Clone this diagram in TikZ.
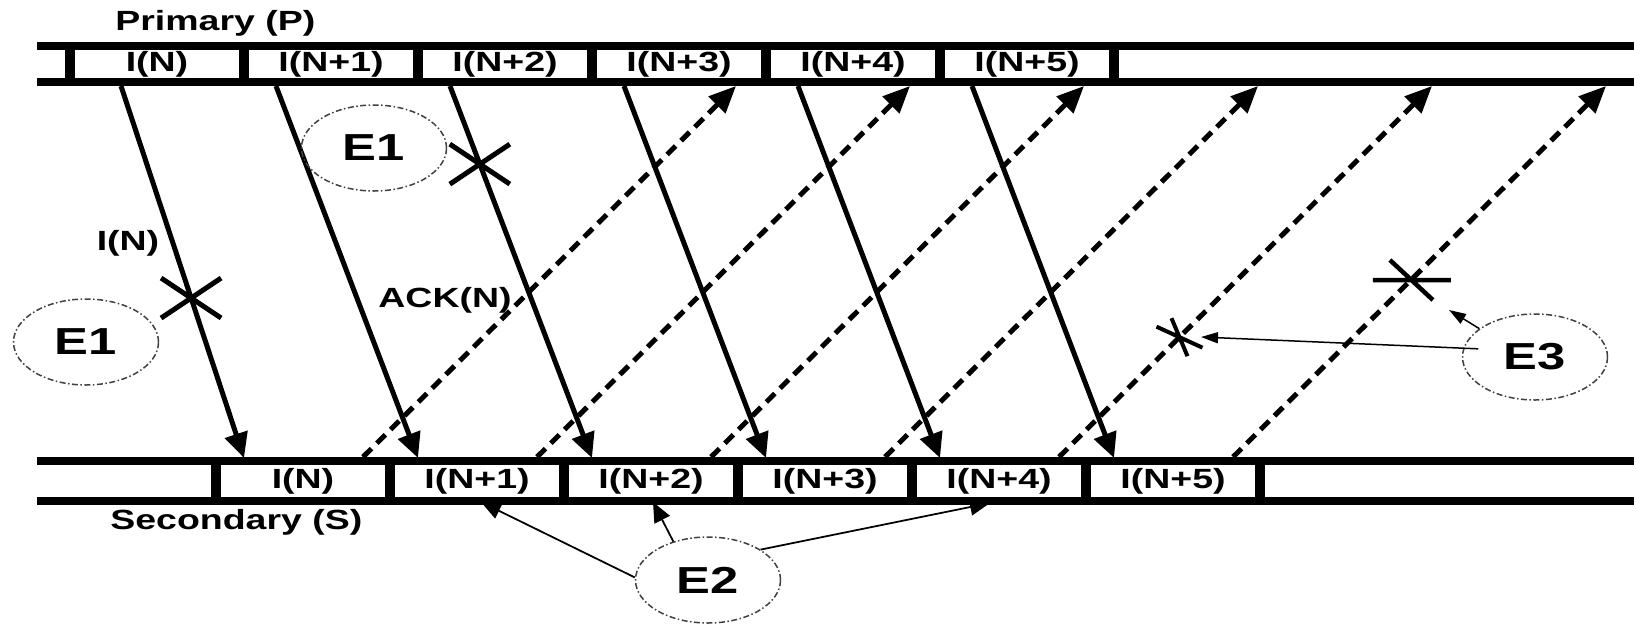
\documentclass[tikz,border=0pt]{standalone}
\usepackage{fontspec}
\setmainfont{Liberation Sans}[FakeStretch=1.35]
\usetikzlibrary{arrows.meta,shapes.geometric}

\tikzset{
  rail/.style={line width=1.6mm},
  sep/.style={line width=2mm},
  pkt/.style={font=\fontsize{15.8}{19}\selectfont\bfseries, inner sep=0pt},
  data/.style={line width=1mm, -{Triangle[length=5mm,width=4.6mm]}},
  ack/.style={line width=1mm, dash pattern=on 2.4mm off 1.5mm, -{Triangle[length=5.4mm,width=4.6mm]}},
  lost/.style={line width=1mm},
  err/.style={draw=black!75, ellipse, line width=0.3mm,
    dash pattern=on 1.2mm off 0.5mm on 0.3mm off 0.5mm,
    minimum width=29mm, minimum height=17.2mm, inner sep=0pt,
    font=\fontsize{21.4}{25}\selectfont\bfseries},
  ptr/.style={line width=0.35mm, -{Triangle[length=4mm,width=3.4mm]}},
  ptrs/.style={line width=0.3mm, -{Triangle[length=3.4mm,width=2.2mm]}},
}

\begin{document}
\begin{tikzpicture}[x=0.2mm,y=-0.2mm]
\useasboundingbox (0,0) rectangle (1637,624);

% send / receive instants
\coordinate (t0) at (121,86);  \coordinate (b0) at (244,458);
\coordinate (t1) at (276,86);  \coordinate (b1) at (418,458);
\coordinate (t2) at (450,86);  \coordinate (b2) at (592,458);
\coordinate (t3) at (624,86);  \coordinate (b3) at (766,458);
\coordinate (t4) at (798,86);  \coordinate (b4) at (940,458);
\coordinate (t5) at (972,86);  \coordinate (b5) at (1114,458);

\coordinate (a0) at (363,457);  \coordinate (r0) at (736,86);
\coordinate (a1) at (537,457);  \coordinate (r1) at (910,86);
\coordinate (a2) at (711,457);  \coordinate (r2) at (1084,86);
\coordinate (a3) at (885,457);  \coordinate (r3) at (1258,86);
\coordinate (a4) at (1059,457); \coordinate (r4) at (1432,86);
\coordinate (a5) at (1233,457); \coordinate (r5) at (1606,86);

% I-frames P -> S
\draw[data] (t0) -- (b0) coordinate[pos=0.57] (xa);
\draw[data] (t1) -- (b1);
\draw[data] (t2) -- (b2) coordinate[pos=0.21] (xb);
\draw[data] (t3) -- (b3);
\draw[data] (t4) -- (b4);
\draw[data] (t5) -- (b5);

% acks S -> P
\draw[ack] (a0) -- (r0);
\draw[ack] (a1) -- (r1);
\draw[ack] (a2) -- (r2);
\draw[ack] (a3) -- (r3);
\draw[ack] (a4) -- (r4) coordinate[pos=0.323] (xc);
\draw[ack] (a5) -- (r5) coordinate[pos=0.477] (xd);

% losses
\draw[lost] (xa) +(-30,-20) -- +(30,20) +(-30,20) -- +(30,-20);
\draw[lost] (xb) +(-30,-20) -- +(30,20) +(-30,20) -- +(30,-20);
\draw[line width=0.8mm] (xc) +(-23,-10.5) -- +(23,10.5) +(-8,-19) -- +(8,19);
\draw[line width=0.9mm] (xd) +(-38,0) -- +(40,0) +(-21,-20) -- +(22,20);

\node[pkt] (lin) at (128,243) {I(N)};
\node[pkt] (lack) at (445,300) {ACK(N)};

% error cases
\node[err] (e1a) at (86,342) {E1};
\node[err] (e1b) at (374,148) {E1};
\node[err] (e2) at (708,580) {E2};
\node[err] (e3) at (1535,357) {E3};

\coordinate (q1) at (481,502);
\coordinate (q2) at (653,502);
\coordinate (q3) at (990,503);
\coordinate (q4) at (1201,337);
\coordinate (q5) at (1449,310);

\draw[ptr] (e2.178) -- (q1);
\draw[ptr] (e2.132) -- (q2);
\draw[ptr] (e2.30) -- (q3);
\draw[ptrs, shorten <=-3mm] (e3.173) -- (q4);
\draw[ptrs] (e3.153) -- (q5);

% the two links
\draw[rail] (37,46) -- (1634,46);
\draw[rail] (37,82) -- (1634,82);
\draw[rail] (37,461) -- (1634,461);
\draw[rail] (37,501) -- (1634,501);
\draw[sep] (70,46) -- (70,82) (244,46) -- (244,82) (418,46) -- (418,82)
  (592,46) -- (592,82) (766,46) -- (766,82) (940,46) -- (940,82)
  (1114,46) -- (1114,82);
\draw[sep] (216,461) -- (216,501) (390,461) -- (390,501) (564,461) -- (564,501)
  (738,461) -- (738,501) (912,461) -- (912,501) (1086,461) -- (1086,501)
  (1260,461) -- (1260,501);

\node[pkt] (p0) at (157,64) {I(N)};
\node[pkt] (p1) at (331,64) {I(N+1)};
\node[pkt] (p2) at (505,64) {I(N+2)};
\node[pkt] (p3) at (679,64) {I(N+3)};
\node[pkt] (p4) at (853,64) {I(N+4)};
\node[pkt] (p5) at (1027,64) {I(N+5)};

\node[pkt] (s0) at (303,481) {I(N)};
\node[pkt] (s1) at (477,481) {I(N+1)};
\node[pkt] (s2) at (651,481) {I(N+2)};
\node[pkt] (s3) at (825,481) {I(N+3)};
\node[pkt] (s4) at (999,481) {I(N+4)};
\node[pkt] (s5) at (1173,481) {I(N+5)};

\node[pkt,anchor=base west] (prim) at (115,30) {Primary (P)};
\node[pkt,anchor=base west] (sec) at (110,529) {Secondary (S)};
\end{tikzpicture}
\end{document}
